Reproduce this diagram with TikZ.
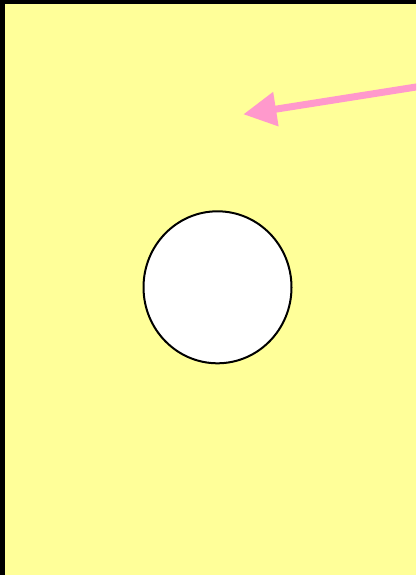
\documentclass[tikz,border=0pt]{standalone}
\usetikzlibrary{arrows.meta, shapes.geometric}
\definecolor{paleyellow}{RGB}{255, 255, 153}
\definecolor{pinkarrow} {RGB}{255, 153, 204}
\tikzset{
  % hole in the sheet
  hole/.style={
    ellipse, draw=black, fill=white, line width=2pt,
    minimum width=148pt, minimum height=152pt, inner sep=0pt
  },
  % pointer arrow
  pointer/.style={-{Triangle[length=33pt, width=33pt]}, line width=7pt, color=pinkarrow},
}

\begin{document}
\begin{tikzpicture}[x=1pt, y=-1pt]
  \useasboundingbox (0,0) rectangle (416,575);
  \clip (0,0) rectangle (416,575);
  % sheet with its black edge on the left and at the top
  \fill[black] (0,0) rectangle (416,575);
  \fill[paleyellow] (4.5,4) rectangle (416,575);
  \node[hole] (hole) at (217.5,287.3) {};
  \coordinate (tail) at (425,85.6);
  \coordinate (tip)  at (243.3,114.3);
  \draw[pointer] (tail) -- (tip);
\end{tikzpicture}
\end{document}
